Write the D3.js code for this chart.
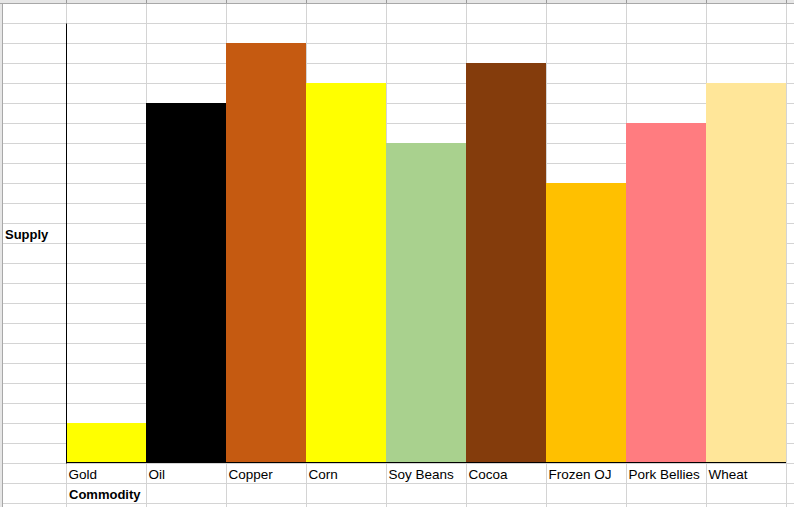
<!DOCTYPE html>
<html><head><meta charset="utf-8">
<script src="https://cdn.jsdelivr.net/npm/d3@7"></script>
<style>body{margin:0;background:#fff;overflow:hidden}svg{display:block}</style>
</head><body>
<svg id="c" width="794" height="507"></svg>
<script>
const categories = ["Gold","Oil","Copper","Corn","Soy Beans","Cocoa","Frozen OJ","Pork Bellies","Wheat"];
const supply = [2,18,21,19,16,20,14,17,19];
const colors = ["#FFFF00","#000000","#C55A11","#FFFF00","#A9D18E","#843C0C","#FFC000","#FF7C80","#FFE699"];
const yTitle = "Supply";
const xTitle = "Commodity";

const svg = d3.select("#c");
const W = 794, H = 507;
const FONT = "'Liberation Sans', Arial, sans-serif";

// spreadsheet grid
const grid = svg.append("g");
grid.append("rect").attr("x",0).attr("y",0).attr("width",W).attr("height",3).attr("fill","#e6e6e6");
grid.append("rect").attr("x",0).attr("y",0).attr("width",2).attr("height",H).attr("fill","#e6e6e6");
for (let yy = 23; yy < H; yy += 20) {
  grid.append("line").attr("x1",3).attr("x2",W).attr("y1",yy+0.5).attr("y2",yy+0.5).attr("stroke","#d4d4d4");
}
for (let xx = 66; xx < W; xx += 80) {
  grid.append("line").attr("x1",xx+0.5).attr("x2",xx+0.5).attr("y1",3).attr("y2",H).attr("stroke","#d4d4d4");
  grid.append("line").attr("x1",xx+0.5).attr("x2",xx+0.5).attr("y1",0).attr("y2",3).attr("stroke","#9a9a9a");
}
grid.append("line").attr("x1",0).attr("x2",W).attr("y1",3.5).attr("y2",3.5).attr("stroke","#a8a8a8");
grid.append("line").attr("x1",2.5).attr("x2",2.5).attr("y1",3).attr("y2",H).attr("stroke","#a8a8a8");

// chart
const x = d3.scaleBand().domain(categories).range([66, 786]).padding(0);
const y = d3.scaleLinear().domain([0, 22]).range([463, 23]);

svg.append("g").selectAll("rect").data(categories).join("rect")
  .attr("x", d => x(d))
  .attr("width", x.bandwidth())
  .attr("y", (d,i) => y(supply[i]))
  .attr("height", (d,i) => y(0) - y(supply[i]))
  .attr("fill", (d,i) => colors[i]);

// axes (d3 adds a 0.5 offset at dpr 1)
const xAxis = svg.append("g").attr("transform", `translate(0,${y(0) - 1})`)
  .call(d3.axisBottom(x).tickSize(0).tickPadding(0));
xAxis.select(".domain").attr("d", `M66,0.5H786`).attr("stroke","#000");
xAxis.selectAll("text")
  .attr("text-anchor","start")
  .attr("x", -x.bandwidth()/2 + 2.5)
  .attr("y", 17).attr("dy", 0)
  .attr("font-family", FONT)
  .attr("font-size", 13.5).attr("fill","#000");

const yAxis = svg.append("g").attr("transform", `translate(66,0)`)
  .call(d3.axisLeft(y).tickValues([]).tickSizeOuter(0));
yAxis.select(".domain").attr("stroke","#000");

svg.append("text").attr("x",5).attr("y",239).text(yTitle)
  .attr("font-family", FONT).attr("font-size",13).attr("font-weight","bold");
svg.append("text").attr("x",69).attr("y",499).text(xTitle)
  .attr("font-family", FONT).attr("font-size",13).attr("font-weight","bold");
</script>
</body></html>
